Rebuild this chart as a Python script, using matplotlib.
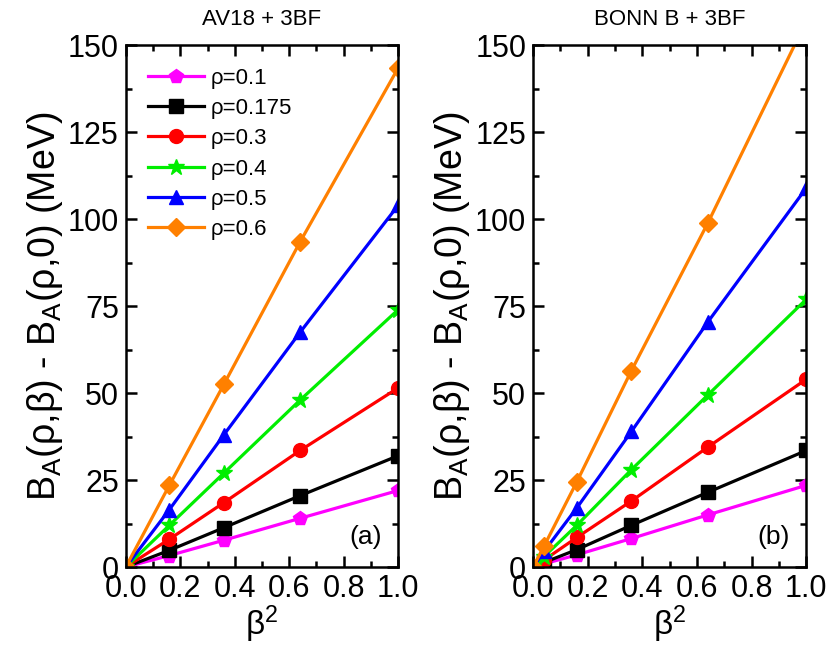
import matplotlib
matplotlib.use("Agg")
import matplotlib.pyplot as plt
from matplotlib.ticker import MultipleLocator

plt.rcParams['font.family'] = ['Liberation Sans', 'DejaVu Sans']
plt.rcParams['mathtext.fontset'] = 'custom'
plt.rcParams['mathtext.rm'] = 'Liberation Sans'
plt.rcParams['mathtext.it'] = 'Liberation Sans:italic'

# beta^2 grids
beta2_a = [0.0, 0.16, 0.36, 0.64, 1.0]
beta2_b = [0.0, 0.04, 0.16, 0.36, 0.64, 1.0]

labels = ['ρ=0.1', 'ρ=0.175', 'ρ=0.3', 'ρ=0.4', 'ρ=0.5', 'ρ=0.6']
colors = ['#ff00ff', '#000000', '#ff0000', '#00ee00', '#0000ff', '#ff8000']
markers = ['p', 's', 'o', '*', '^', 'D']

# panel (a): AV18 + 3BF
vals_a = [
    [0, 3.3, 7.7, 14.0, 22.0],
    [0, 4.8, 11.3, 20.5, 32.0],
    [0, 8.0, 18.5, 33.5, 51.5],
    [0, 12.0, 27.0, 48.0, 74.0],
    [0, 16.5, 38.0, 67.5, 104.0],
    [0, 23.5, 52.5, 93.5, 143.5],
]
# panel (b): BONN B + 3BF
vals_b = [
    [0, 0.9, 3.5, 8.2, 15.0, 23.5],
    [0, 1.3, 5.0, 12.0, 21.5, 33.5],
    [0, 2.0, 8.5, 19.0, 34.5, 54.0],
    [0, 3.0, 12.0, 28.0, 49.5, 77.0],
    [0, 4.5, 17.0, 39.0, 70.5, 109.0],
    [0, 6.0, 24.5, 56.5, 99.0, 157.0],
]

fig = plt.figure(figsize=(8.33, 6.62), dpi=100)
ax1 = fig.add_axes([0.151, 0.1435, 0.327, 0.788])
ax2 = fig.add_axes([0.640, 0.1435, 0.328, 0.788])

ylab = r'B$_\mathrm{A}$(ρ,β) - B$_\mathrm{A}$(ρ,0) (MeV)'

for ax, x, vals, title, tag in [(ax1, beta2_a, vals_a, 'AV18 + 3BF', '(a)'),
                                (ax2, beta2_b, vals_b, 'BONN B + 3BF', '(b)')]:
    for y, c, m, lab in zip(vals, colors, markers, labels):
        ms = 10
        if m == '*':
            ms = 12
        if m == 'D':
            ms = 9
        ax.plot(x, y, color=c, marker=m, markersize=ms, linewidth=2.3,
                markeredgecolor=c, label=lab)
    ax.set_xlim(0, 1.0)
    ax.set_ylim(0, 150)
    ax.xaxis.set_major_locator(MultipleLocator(0.2))
    ax.xaxis.set_minor_locator(MultipleLocator(0.1))
    ax.yaxis.set_major_locator(MultipleLocator(25))
    ax.yaxis.set_minor_locator(MultipleLocator(12.5))
    ax.tick_params(which='both', direction='in', top=True, right=True, width=1.8)
    ax.tick_params(which='major', length=8, labelsize=22, pad=5)
    ax.tick_params(which='minor', length=4)
    for s in ax.spines.values():
        s.set_linewidth(1.8)
    ax.set_xticklabels(['%.1f' % t for t in ax.get_xticks()])
    ax.set_title(title, fontsize=16, pad=15)
    ax.set_xlabel(r'β$^\mathrm{2}$', fontsize=24, labelpad=0)
    ax.set_ylabel(ylab, fontsize=27, labelpad=2)
    ax.text(0.88, 0.035, tag, transform=ax.transAxes, fontsize=19, ha='center', va='bottom')

ax1.legend(loc='upper left', frameon=False, fontsize=16, handlelength=2.5,
           labelspacing=0.42, borderaxespad=0.6, handletextpad=0.3)

plt.savefig('out.png', dpi=100)
